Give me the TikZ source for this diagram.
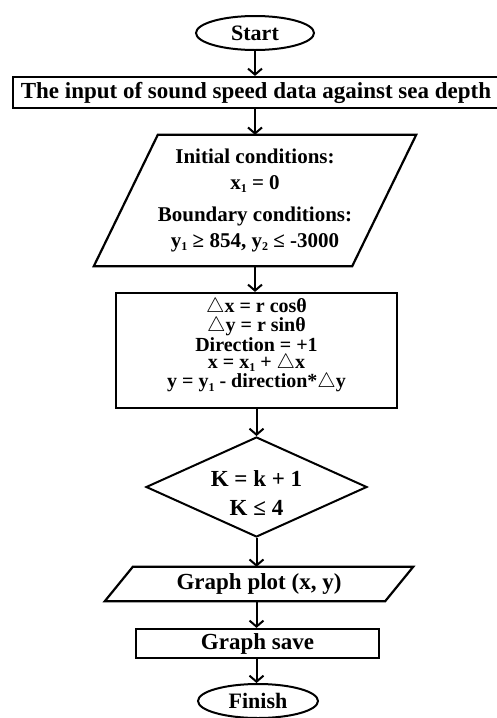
\documentclass[tikz,border=0pt]{standalone}
\usepackage{fontspec}
\setmainfont{Liberation Serif}
\usepackage{tikz}
\usetikzlibrary{positioning, shapes.geometric, calc, arrows.meta}

\newcommand{\lowsub}[1]{\raisebox{-0.35ex}{\fontsize{12}{12}\selectfont #1}}
\newcommand{\tri}{\ensuremath{\triangle}}

\begin{document}
\begin{tikzpicture}[
  x=1pt, y=-1pt,
  font=\bfseries\fontsize{23}{25}\selectfont,
  every node/.append style={align=center, inner sep=0pt},
  line/.style={line width=2.2pt},
  flowarrow/.style={line width=2pt, -{Straight Barb[length=6pt, width=14pt, line width=2pt]}},
  terminal/.style={ellipse, draw, line width=2pt, minimum width=118pt, minimum height=34pt,
    font=\bfseries\fontsize{22}{24}\selectfont},
  procbox/.style={rectangle, draw, line width=2.2pt},
  slantbody/.style={rectangle, draw=none},
  decision/.style={diamond, draw, line width=2pt, aspect=2.2,
    minimum width=221pt, minimum height=100pt}
]
\useasboundingbox (0,0) rectangle (496,718);

\node[terminal] (start) at (255,33) {Start};

\node[procbox, minimum width=486pt, minimum height=31pt] (input) at (256,92.5)
  {The input of sound speed data against sea depth};

\node[slantbody, minimum width=258pt, minimum height=131pt,
  font=\bfseries\fontsize{21}{26}\selectfont] (cond) at (255,200.5) {%
  Initial conditions:\\
  x\lowsub{1} = 0\\[6pt]
  Boundary conditions:\\
  y\lowsub{1} ≥ 854, y\lowsub{2} ≤ -3000};

\node[procbox, minimum width=281pt, minimum height=115pt,
  font=\bfseries\fontsize{20}{17.5}\selectfont] (calc) at (256.5,350.5) {%
  \lineskiplimit=-100pt
  \tri x = r cosθ\\
  \tri y = r sinθ\\
  Direction = +1\\
  x = x\lowsub{1} + \tri x\\
  y = y\lowsub{1} - direction*\tri y\rule[-15pt]{0pt}{15pt}};

\node[decision] (loop) at (256.5,487) {%
  \rule{0pt}{27pt}K = k + 1\\[4pt]
  K ≤ 4};

\node[slantbody, minimum width=280pt, minimum height=34pt] (plot) at (259,584)
  {Graph plot (x, y)};

\node[procbox, minimum width=243pt, minimum height=29pt] (save) at (257.5,643.5)
  {Graph save};

\node[terminal, minimum width=120pt] (finish) at (258,701) {Finish};

% slanted input/output boxes
\foreach \n/\s in {cond/32, plot/14}
  \draw[line, line join=miter] ($(\n.south west)+(-\s pt,0)$) -- ($(\n.south east)+(-\s pt,0)$)
    -- ($(\n.north east)+(\s pt,0)$) -- ($(\n.north west)+(\s pt,0)$) -- cycle;

% connectors
\draw[flowarrow] (start.south) -- (start.south |- input.north);
\draw[flowarrow] (start.south |- input.south) -- (start.south |- cond.north);
\draw[flowarrow] (start.south |- cond.south) -- (start.south |- calc.north);
\draw[flowarrow] (calc.south) -- (loop.north);
\draw[flowarrow] (loop.south) -- (loop.south |- plot.north);
\draw[flowarrow] (loop.south |- plot.south) -- (loop.south |- save.north);
\draw[flowarrow] (loop.south |- save.south) -- (loop.south |- finish.north);

\end{tikzpicture}
\end{document}
